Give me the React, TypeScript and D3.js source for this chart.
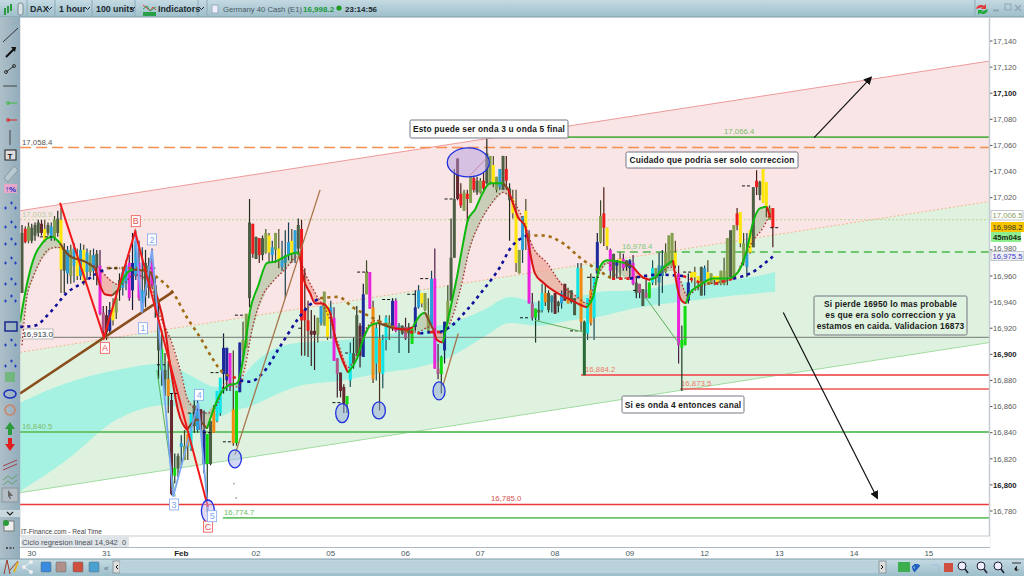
import * as d3 from "d3";

type Bar = [number, number, number, number, string];

const W = 1024;
const H = 576;
const plot = { left: 20, right: 989, top: 18, bottom: 536 };
const SANS = "'Liberation Sans', Arial, sans-serif";

// high, body top, body bottom, low, colour key
const barsJan30: Bar[] = [
  [16999, 16993, 16947, 16947, "d"], [16998, 16996, 16986, 16985, "r"], [17001, 16998, 16987, 16985, "l"], [17000, 16997, 16987, 16985, "d"],
  [17001, 16999, 16991, 16987, "d"], [17003, 17001, 16993, 16990, "d"], [17003, 17000, 16993, 16991, "m"], [17003, 16996, 16987, 16986, "y"],
  [17001, 16999, 16993, 16991, "d"], [17001, 16998, 16989, 16987, "c"], [17006, 17003, 16989, 16987, "l"], [17010, 17004, 16993, 16990, "d"],
  [17012, 17003, 16965, 16947, "y"], [16985, 16980, 16964, 16947, "d"], [16983, 16980, 16962, 16954, "c"], [16984, 16980, 16960, 16954, "l"],
  [16985, 16981, 16968, 16955, "c"], [16981, 16976, 16960, 16957, "y"], [16985, 16980, 16960, 16957, "c"], [16984, 16980, 16955, 16953, "y"],
  [16981, 16978, 16963, 16957, "c"], [16980, 16976, 16963, 16960, "l"], [16981, 16976, 16964, 16957, "c"],
];
const barsJan31: Bar[] = [
  [16980, 16977, 16966, 16953, "d"], [16980, 16968, 16931, 16930, "p"], [16937, 16932, 16918, 16913, "k"], [16937, 16930, 16917, 16911, "m"],
  [16940, 16934, 16918, 16916, "n"], [16943, 16937, 16926, 16922, "y"], [16949, 16943, 16932, 16927, "l"], [16962, 16957, 16949, 16941, "d"],
  [16967, 16963, 16951, 16945, "c"], [16972, 16968, 16954, 16949, "c"], [16976, 16970, 16943, 16941, "p"], [16993, 16970, 16949, 16934, "n"],
  [16995, 16987, 16960, 16957, "c"], [16987, 16970, 16943, 16941, "p"], [16982, 16949, 16932, 16932, "c"], [16980, 16970, 16945, 16936, "d"],
  [16974, 16968, 16951, 16943, "d"], [16981, 16970, 16953, 16951, "p"], [16959, 16953, 16937, 16928, "d"], [16941, 16926, 16903, 16881, "d"],
  [16918, 16904, 16888, 16876, "g"], [16901, 16888, 16881, 16868, "d"], [16895, 16881, 16868, 16855, "o"],
];
const barsFeb01: Bar[] = [
  [16870, 16865, 16793, 16792, "m"], [16824, 16813, 16807, 16801, "g"], [16824, 16822, 16813, 16806, "d"], [16838, 16832, 16829, 16815, "c"],
  [16842, 16830, 16819, 16819, "l"], [16839, 16839, 16830, 16819, "o"], [16855, 16855, 16828, 16826, "a"], [16865, 16861, 16845, 16840, "d"],
  [16865, 16857, 16842, 16840, "c"], [16858, 16858, 16842, 16840, "m"], [16857, 16842, 16816, 16809, "n"], [16839, 16839, 16816, 16779, "g"],
  [16849, 16849, 16816, 16815, "d"], [16861, 16859, 16840, 16840, "o"], [16872, 16872, 16849, 16848, "a"], [16882, 16882, 16855, 16853, "a"],
  [16916, 16905, 16885, 16870, "n"], [16905, 16905, 16880, 16872, "n"], [16901, 16901, 16875, 16872, "p"], [16903, 16858, 16832, 16830, "o"],
  [16872, 16872, 16832, 16830, "g"], [16909, 16909, 16871, 16871, "n"], [16925, 16911, 16903, 16897, "l"],
];
const barsFeb02: Bar[] = [
  [16931, 16931, 16905, 16905, "l"], [17019, 17001, 16943, 16936, "d"], [17000, 17000, 16977, 16974, "r"], [16990, 16990, 16973, 16973, "d"],
  [16989, 16989, 16976, 16970, "r"], [16991, 16989, 16976, 16972, "d"], [16996, 16993, 16978, 16977, "l"], [16993, 16991, 16978, 16970, "y"],
  [16987, 16982, 16976, 16970, "c"], [16993, 16993, 16980, 16970, "l"], [16996, 16981, 16973, 16966, "y"], [16987, 16972, 16967, 16964, "c"],
  [16995, 16976, 16970, 16943, "t"], [17001, 16986, 16976, 16972, "c"], [16996, 16987, 16977, 16970, "y"], [16995, 16995, 16978, 16970, "c"],
  [17004, 16999, 16981, 16976, "d"], [17003, 16996, 16926, 16899, "r"], [16966, 16934, 16926, 16899, "r"], [16941, 16926, 16918, 16898, "r"],
  [16934, 16918, 16915, 16891, "m"], [16930, 16918, 16915, 16888, "m"], [16928, 16928, 16915, 16909, "l"],
];
const barsFeb05: Bar[] = [
  [16937, 16937, 16924, 16922, "c"], [16948, 16948, 16922, 16922, "l"], [16937, 16937, 16913, 16911, "y"], [16941, 16936, 16930, 16912, "c"],
  [16936, 16928, 16895, 16895, "p"], [16897, 16897, 16885, 16867, "k"], [16886, 16886, 16872, 16867, "m"], [16877, 16875, 16862, 16855, "m"],
  [16868, 16868, 16862, 16855, "g"], [16909, 16901, 16880, 16875, "a"], [16913, 16901, 16893, 16889, "d"], [16937, 16930, 16901, 16899, "d"],
  [16924, 16922, 16899, 16890, "m"], [16954, 16946, 16898, 16898, "n"], [16972, 16963, 16946, 16946, "l"], [16963, 16963, 16935, 16935, "p"],
  [16941, 16936, 16881, 16878, "o"], [16924, 16920, 16893, 16880, "a"], [16930, 16912, 16886, 16857, "o"], [16915, 16911, 16885, 16874, "a"],
  [16930, 16928, 16911, 16903, "a"], [16930, 16924, 16920, 16911, "l"], [16943, 16941, 16921, 16918, "n"],
];
const barsFeb06: Bar[] = [
  [16943, 16941, 16918, 16917, "p"], [16924, 16922, 16918, 16901, "t"], [16922, 16922, 16916, 16915, "d"], [16928, 16921, 16912, 16911, "k"],
  [16924, 16921, 16916, 16901, "d"], [16920, 16920, 16908, 16908, "g"], [16949, 16936, 16921, 16918, "n"], [16953, 16949, 16936, 16935, "c"],
  [16947, 16947, 16939, 16936, "y"], [16947, 16947, 16934, 16933, "l"], [16943, 16930, 16918, 16917, "l"], [16964, 16958, 16922, 16922, "c"],
  [16981, 16958, 16889, 16889, "p"], [16908, 16889, 16885, 16881, "k"], [16899, 16898, 16885, 16870, "g"], [16925, 16925, 16903, 16893, "n"],
  [16953, 16941, 16925, 16924, "l"], [17004, 16974, 16941, 16941, "d"], [17042, 17019, 16974, 16974, "d"], [17050, 17050, 17019, 17018, "m"],
  [17031, 17023, 17014, 17012, "r"], [17026, 17024, 17010, 17010, "l"], [17026, 17023, 17019, 17001, "r"],
];
const barsFeb07: Bar[] = [
  [17036, 17036, 17016, 17016, "l"], [17037, 17035, 17026, 17024, "r"], [17036, 17033, 17024, 17022, "d"], [17035, 17033, 17024, 17023, "l"],
  [17039, 17033, 17027, 17024, "r"], [17065, 17054, 17031, 17030, "d"], [17052, 17052, 17031, 17030, "l"], [17052, 17045, 17031, 17028, "y"],
  [17036, 17036, 17026, 17024, "l"], [17042, 17042, 17028, 17026, "c"], [17052, 17052, 17026, 17026, "d"], [17052, 17042, 17033, 17026, "r"],
  [17031, 17027, 17018, 16987, "d"], [17026, 17019, 17008, 17004, "y"], [17026, 17008, 16970, 16963, "y"], [16980, 16980, 16962, 16962, "l"],
  [17006, 17006, 16980, 16970, "c"], [17019, 17010, 16995, 16980, "y"], [16995, 16985, 16939, 16939, "p"], [16947, 16939, 16928, 16926, "k"],
  [16935, 16935, 16928, 16909, "g"], [16941, 16934, 16932, 16926, "d"], [16954, 16947, 16934, 16932, "a"],
];
const barsFeb08: Bar[] = [
  [16954, 16947, 16940, 16937, "o"], [16949, 16947, 16934, 16932, "d"], [16945, 16945, 16940, 16932, "t"], [16947, 16947, 16931, 16931, "m"],
  [16941, 16940, 16937, 16932, "d"], [16949, 16947, 16939, 16935, "c"], [16954, 16954, 16941, 16941, "m"], [16951, 16943, 16939, 16939, "o"],
  [16949, 16949, 16940, 16939, "d"], [16943, 16943, 16930, 16930, "d"], [16970, 16966, 16943, 16943, "a"], [16970, 16966, 16925, 16918, "o"],
  [16926, 16925, 16884, 16884, "f"], [16943, 16943, 16916, 16911, "a"], [16962, 16949, 16924, 16922, "o"], [16959, 16959, 16928, 16911, "a"],
  [16993, 16986, 16962, 16959, "n"], [17018, 17006, 16986, 16985, "l"], [17028, 17008, 16997, 16983, "r"], [16997, 16997, 16983, 16980, "y"],
  [16981, 16980, 16964, 16958, "p"], [16977, 16977, 16958, 16958, "d"], [16972, 16972, 16968, 16958, "n"],
];
const barsFeb09: Bar[] = [
  [16978, 16973, 16970, 16958, "y"], [16977, 16973, 16966, 16964, "p"], [16972, 16972, 16967, 16964, "d"], [16973, 16972, 16966, 16959, "n"],
  [16976, 16970, 16954, 16953, "p"], [16960, 16955, 16947, 16943, "d"], [16954, 16954, 16947, 16943, "k"], [16950, 16950, 16937, 16937, "d"],
  [16957, 16947, 16943, 16943, "k"], [16955, 16955, 16943, 16943, "g"], [16972, 16966, 16955, 16953, "a"], [16966, 16966, 16960, 16953, "l"],
  [16978, 16968, 16955, 16937, "t"], [16980, 16968, 16960, 16947, "t"], [16985, 16978, 16963, 16962, "l"], [16991, 16991, 16968, 16968, "l"],
  [16993, 16993, 16968, 16968, "l"], [16987, 16978, 16968, 16966, "y"], [16968, 16962, 16907, 16893, "p"], [16922, 16911, 16905, 16872, "g"],
  [16937, 16937, 16907, 16907, "g"], [16962, 16955, 16941, 16939, "n"], [16963, 16963, 16959, 16955, "y"],
];
const barsFeb12: Bar[] = [
  [16967, 16963, 16959, 16951, "y"], [16960, 16960, 16955, 16949, "y"], [16967, 16967, 16945, 16945, "d"], [16968, 16966, 16955, 16945, "c"],
  [16972, 16963, 16955, 16955, "y"], [16962, 16962, 16954, 16954, "l"], [16960, 16960, 16957, 16953, "y"], [16960, 16960, 16955, 16953, "y"],
  [16964, 16964, 16954, 16953, "l"], [16974, 16964, 16954, 16953, "l"], [16989, 16989, 16959, 16953, "l"], [16995, 16995, 16959, 16959, "d"],
  [16999, 16999, 16959, 16959, "l"], [17012, 17008, 16999, 16995, "r"], [17009, 17009, 16985, 16982, "y"], [16993, 16985, 16970, 16968, "l"],
  [16993, 16977, 16967, 16959, "c"], [16995, 16995, 16978, 16977, "y"], [17028, 17028, 16982, 16982, "d"], [17041, 17033, 17028, 17022, "r"],
  [17033, 17032, 17022, 17018, "d"], [17042, 17042, 17016, 17016, "y"], [17032, 17032, 17012, 17005, "y"],
];
const barsLast: Bar[] = [
  [17014, 17012, 17003, 17003, "l"], [17012, 17012, 16997, 16982, "r"],
];
const allBars = [
  ...barsJan30, ...barsJan31, ...barsFeb01, ...barsFeb02, ...barsFeb05, ...barsFeb06,
  ...barsFeb07, ...barsFeb08, ...barsFeb09, ...barsFeb12, ...barsLast,
];

const bodyColors: Record<string, string> = {
  d: "#4c5e44", m: "#642a30", y: "#ffe60a", c: "#2ba0d8", a: "#10e4e6", p: "#ea22dc",
  o: "#f08a12", r: "#ee1c1c", n: "#1c2a9c", g: "#10dc10", l: "#84a04e", k: "#b4558c",
  t: "#2c8ca0", f: "#2a6a34",
};
const wickColors: Record<string, string> = {
  d: "#202a1e", m: "#3c1c20", y: "#4e4a24", c: "#173f56", a: "#174f5a", p: "#4a1e4a",
  o: "#4a3216", r: "#4a1e16", n: "#121a34", g: "#1a3a20", l: "#3e4a24", k: "#3c1e32",
  t: "#173f4a", f: "#1a3a20",
};

const fastBars = [-0.6, 1.8, 4, 6.2, 9.2, 11.7, 14.8, 19.4, 22.5, 24, 25.5, 27.7, 29.5, 32.6, 34.2, 39.4, 41.5, 44, 45.5, 48, 50.8, 53.8, 56.9, 60.9, 63.4, 66.2, 68, 70.2, 72.6, 75.4, 77.8, 80.3, 84.6, 85.5, 86.5, 88.6, 90.2, 92.3, 94.8, 96.3, 98.5, 100.3, 103.1, 104.9, 107.1, 109.5, 114.2, 118.5, 120.3, 122.5, 124, 126.5, 127.7, 129.5, 131.7, 133.8, 135.7, 137.2, 139.4, 141.8, 144, 148, 149.5, 151, 152.6, 154.8, 156.3, 157.8, 160.3, 164.6, 168.6, 171.7, 173.8, 175.7, 177.8, 180, 185.5, 188, 191, 193.2, 194.8, 197.2, 200.3, 201.8, 203, 204.3, 205.5, 208.6, 212.6, 216.9, 220, 223, 224.9, 227.1, 229.2, 230.2];
const fastPrices = [16925, 16957, 16976, 16985, 16990, 16985, 16975, 16971, 16966, 16953, 16946, 16945, 16949, 16963, 16965, 16963, 16945, 16919, 16893, 16857, 16842, 16850, 16843, 16869, 16876, 16878, 16896, 16934, 16952, 16970, 16971, 16974, 16978, 16975, 16959, 16947, 16939, 16939, 16932, 16913, 16896, 16886, 16897, 16911, 16922, 16924, 16920, 16919, 16921, 16930, 16932, 16919, 16911, 16909, 16934, 16959, 16985, 17003, 17011, 17024, 17031, 17031, 17027, 17016, 17005, 16998, 16978, 16962, 16955, 16947, 16942, 16938, 16936, 16944, 16967, 16972, 16970, 16967, 16959, 16957, 16959, 16966, 16972, 16949, 16941, 16939, 16947, 16953, 16958, 16958, 16962, 16980, 17001, 17012, 17013, 17005];
const fastTrend = [
  "ggggg", "bbb", "rrr", "b", "gg", "bb", "rrrr", "bb", "ggggggggggg", "rrrrrrrr", "gggg", "b", "rr", "gg", "b", "rr",
  "gggggggg", "b", "rrrrrrrrrr", "gggg", "b", "rr", "ggg", "rrr", "ggggggggg", "rr",
].join("");

const slowBars = [0, 1.5, 3.4, 5.5, 8.6, 11.1, 14.8, 19.4, 24, 27, 30.2, 34.8, 39.4, 41.5, 46.5, 49.2, 51, 54.2, 57.2, 60.3, 62.5, 66.5, 68.6, 70.8, 73.8, 76.9, 80.9, 84.9, 87.1, 90.2, 94.2, 97.2, 100.3, 103.1, 106.2, 109.2, 113.2, 118.5, 121.5, 125.5, 129.5, 131.7, 134.8, 137.8, 140.9, 144, 148, 151, 154.2, 157.2, 161.5, 166.5, 170.8, 173.8, 176.9, 180, 184, 188, 194.2, 199.4, 202.5, 204.6, 208.6, 213.8, 218.8, 221.8, 224.9, 228, 230.2];
const slowPrices = [16907, 16944, 16959, 16971, 16981, 16982, 16976, 16971, 16965, 16957, 16953, 16961, 16955, 16936, 16906, 16883, 16865, 16857, 16855, 16863, 16878, 16875, 16890, 16919, 16944, 16955, 16965, 16975, 16962, 16947, 16930, 16909, 16890, 16901, 16921, 16926, 16921, 16919, 16917, 16921, 16916, 16924, 16949, 16982, 17001, 17014, 17024, 17018, 17003, 16982, 16970, 16952, 16944, 16939, 16959, 16970, 16958, 16959, 16958, 16967, 16957, 16945, 16952, 16955, 16958, 16972, 16987, 16997, 17008];

const longBars = [-0.6, 4, 8.6, 13.8, 18.8, 23.1, 26.2, 29.2, 36.3, 41.5, 46.5, 50.8, 54.8, 58.8, 61.8, 64.9, 67.1, 70.2, 74.2, 79.4, 84.6, 88.6, 91.7, 97.2, 101.8, 106.2, 111.1, 115.4, 119.4, 122.5, 125.5, 128.6, 131.7, 136.9, 141.8, 147.1, 150.2, 155.4, 160.3, 166.5, 171.7, 176.9, 181.5, 187, 196.3, 203.4, 208.6, 213.2, 218.8, 224, 231];
const longPrices = [16921, 16922, 16932, 16947, 16955, 16962, 16966, 16966, 16966, 16959, 16947, 16928, 16913, 16896, 16886, 16883, 16880, 16879, 16886, 16906, 16926, 16938, 16943, 16944, 16936, 16930, 16924, 16920, 16917, 16916, 16917, 16917, 16921, 16934, 16949, 16967, 16981, 16991, 16991, 16985, 16974, 16965, 16958, 16958, 16961, 16960, 16955, 16954, 16958, 16962, 16975];
const longTrend = [
  "nnnnnn", "bbbbbbbbb", "r", "nnnnnn", "bbbbbb", "r", "n", "r", "nnnnnn", "bbbbb", "r", "nn", "r", "b", "r", "nnn",
].join("");

const bandBars = [-0.6, 13.8, 29.2, 44, 51.7, 60, 65.5, 70.2, 75.4, 85.5, 98.8, 111.1, 121.5, 131.7, 142, 150.2, 158.5, 168.6, 177.8, 190.1, 202.5, 218.8, 231.7];
const bandTop = [16863, 16878, 16888, 16893, 16884, 16875, 16876, 16890, 16901, 16909, 16911, 16915, 16919, 16924, 16934, 16944, 16940, 16942, 16948, 16949, 16955, 16957, 16963];
const bandBottom = [16795, 16819, 16850, 16861, 16857, 16852, 16857, 16860, 16866, 16876, 16880, 16886, 16890, 16898, 16913, 16924, 16922, 16926, 16929, 16936, 16940, 16945, 16948];

const channelBars = [-0.6, 297.5];
const channelUpper = [17010, 17124.6];
const channelMiddle = [16901.6, 17017];
const channelLower = [16794, 16909];

const priceTicks = d3.range(16780, 17141, 20);
const boldTicks = [17100, 16900, 16800];
const hiddenTicks = [17000];
const dayTicks = [3, 26, 49, 72, 95, 118, 141, 164, 187, 210, 233, 256, 279];
const dayLabels = ["30", "31", "Feb", "02", "05", "06", "07", "08", "09", "12", "13", "14", "15"];

const x = d3.scaleLinear().domain([0, 297.5]).range([22, 989]);
const y = d3.scaleLinear().domain([16780, 17140]).range([511, 41]);

const levels = [
  { price: 17066.4, from: 143, color: "#58b048", w: 1.6, dash: "", label: "17,066.4", lx: 724, lc: "#7dbb6d" },
  { price: 17058.4, from: -0.6, color: "#f59050", w: 1.6, dash: "11 5", label: "17,058.4", lx: 22, lc: "#555" },
  { price: 17003.2, from: -0.6, color: "#c0d8a0", w: 1.1, dash: "2 2", label: "17,003.9", lx: 22, lc: "#b6cfa0" },
  { price: 16978.4, from: 183, color: "#48b848", w: 1.3, dash: "8 5", label: "16,978.4", lx: 622, lc: "#7dcb7d" },
  { price: 16884.2, from: 172, color: "#f06868", w: 1.9, dash: "", label: "16,884.2", lx: 585, lc: "#ea7a6a" },
  { price: 16873.5, from: 202.5, color: "#ee5858", w: 1.4, dash: "", label: "16,873.5", lx: 681, lc: "#ea7a6a" },
  { price: 16840.5, from: -0.6, color: "#6cc46c", w: 1.8, dash: "", label: "16,840.5", lx: 22, lc: "#7dbb6d" },
  { price: 16785.0, from: -0.6, color: "#ee3838", w: 1.6, dash: "", label: "16,785.0", lx: 491, lc: "#d85050" },
  { price: 16774.7, from: 61.8, color: "#68c468", w: 1.8, dash: "", label: "16,774.7", lx: 224, lc: "#6dbb5d" },
];

const zigzagBars = [11.7, 25.2, 34.8, 57.2];
const zigzagPrices = [17016, 16913, 16994, 16783];
const waveBars = [34.8, 36.9, 40, 46.5, 54.2, 57.2];
const wavePrices = [16994, 16932, 16980, 16791, 16863, 16781];

const segments = [
  { b: [-0.6, 46.5], p: [16870, 16948], color: "#8a4d1c", w: 2.6 },
  { b: [65.5, 91.7], p: [16823, 17026], color: "#a8744c", w: 1.3 },
  { b: [129.5, 134.2], p: [16876, 16916], color: "#a8744c", w: 1.3 },
  { b: [137.8, 142.8], p: [17037, 17050], color: "#d06060", w: 0.8 },
  { b: [41.5, 47.1], p: [16888, 16791], color: "#58b058", w: 1 },
  { b: [157.8, 172.9], p: [16926, 16917], color: "#58b058", w: 1 },
  { b: [191.7, 202.5], p: [16944, 16907], color: "#58b058", w: 1 },
];
const arrows = [
  { b: [243.7, 261.2], p: [17066, 17112] },
  { b: [234.2, 263.1], p: [16932, 16790] },
];
const ellipses = [
  { b: 137.3, p: 17047, rx: 21, ry: 14.5, fill: "#b49ee0" },
  { b: 98.5, p: 16855, rx: 6.5, ry: 9.5, fill: "#90a8d8" },
  { b: 109.8, p: 16857, rx: 6.5, ry: 8.5, fill: "#90a8d8" },
  { b: 128.3, p: 16872, rx: 6, ry: 9, fill: "#90a8d8" },
  { b: 65.5, p: 16820, rx: 6.5, ry: 9, fill: "#a8b4ec" },
  { b: 57.2, p: 16780, rx: 6.5, ry: 11, fill: "#c8b4e8" },
];
const waveTags = [
  { t: "A", b: 25.5, p: 16905, c: "#f05050" }, { t: "B", b: 35, p: 17002, c: "#f05050" },
  { t: "C", b: 57.2, p: 16768, c: "#f05050" }, { t: "1", b: 37.2, p: 16920, c: "#80a8f0" },
  { t: "2", b: 40, p: 16988, c: "#80a8f0" }, { t: "3", b: 46.8, p: 16785, c: "#80a8f0" },
  { t: "4", b: 54.5, p: 16869, c: "#80a8f0" }, { t: "5", b: 58.5, p: 16776, c: "#80a8f0" },
];
// small black pivot dashes, bar range and price
const pivotFrom = [5.5, 26.8, 38.8, 41.5, 45.5, 51, 55.7, 58, 61.8, 65.5, 85, 95.5, 99.4, 103.1, 110.8, 118.5, 122.5, 130, 153.2, 168.6, 173.8, 188, 203.4, 221.5, 230.2];
const pivotTo = [9.2, 30.2, 41, 44, 48, 53.8, 58.8, 61, 64.8, 68.6, 86.5, 98.5, 100.8, 106.5, 114.2, 121.5, 125, 132.7, 156.3, 171.2, 177.5, 189.5, 206.5, 224, 233.2];
const pivotPrices = [16990, 16966, 16966, 16892, 16870, 16855, 16840, 16886, 16833, 16930, 16920, 16863, 16901, 16963, 16942, 16946, 16958, 17019, 16928, 16918, 16959, 16949, 16963, 17029, 16997];

const strayBars = [65.2, 65.9];
const strayPrices = [16801, 16790];

const textBoxes = [
  { x: 410, y: 120, w: 158, h: 18, lines: ["Esto puede ser onda 3 u onda 5 final"] },
  { x: 626, y: 152, w: 172, h: 16, lines: ["Cuidado que podria ser solo correccion"] },
  { x: 622, y: 396, w: 122, h: 17, lines: ["Si es onda 4 entonces canal"] },
  { x: 814, y: 296, w: 153, h: 39, lines: ["Si pierde 16950 lo mas probable", "es que era solo correccion y ya", "estamos en caida. Validacion 16873"] },
];

const lineAt = d3.line<[number, number]>().x((d) => x(d[0])).y((d) => y(d[1]));
const curveAt = d3.line<[number, number]>().x((d) => x(d[0])).y((d) => y(d[1])).curve(d3.curveMonotoneX);
const slowAt = d3.scaleLinear().domain(slowBars).range(slowPrices).clamp(true);

// cut a series into runs of the same colour key, each run ends on the next run's first point
const runsOf = (bars: number[], prices: number[], keys: string) => {
  const runs: { key: string; idx: number[] }[] = [];
  bars.forEach((_, i) => {
    const key = keys[i] ?? keys[keys.length - 1];
    const last = runs[runs.length - 1];
    if (last && last.key === key) last.idx.push(i);
    else {
      if (last) last.idx.push(i);
      runs.push({ key, idx: [i] });
    }
  });
  return runs.map((r) => ({
    key: r.key,
    points: r.idx.map((i) => [bars[i], prices[i]] as [number, number]),
  }));
};

const fastRuns = runsOf(fastBars, fastPrices, fastTrend);
const longRuns = runsOf(longBars, longPrices, longTrend);
const fastStroke: Record<string, string> = { g: "#0cb80c", r: "#d81414", b: "#7a4a20" };
const fillTone: Record<string, string> = { g: "#b4c4a4", r: "#f0a498", b: "#c8b8a0" };
const longStroke: Record<string, string> = { n: "#10109a", b: "#a06c14", r: "#e02020" };

const bandArea = d3
  .area<number>()
  .x((d) => x(d))
  .y0((_, i) => y(bandBottom[i]))
  .y1((_, i) => y(bandTop[i]))
  .curve(d3.curveMonotoneX);

const channelPoly = (a: number[], b: number[]) =>
  `M${x(channelBars[0])},${y(a[0])}L${x(channelBars[1])},${y(a[1])}L${x(channelBars[1])},${y(b[1])}L${x(channelBars[0])},${y(b[0])}Z`;

const Txt = (p: any) => <text fontFamily={SANS} {...p} />;

const TopBar = () => {
  const seps = [27, 55, 92, 135, 198, 207, 975];
  return (
    <g>
      <defs>
        <linearGradient id="bar" x1="0" x2="0" y1="0" y2="1">
          <stop offset="0" stopColor="#c4dae2" />
          <stop offset="1" stopColor="#9dbecb" />
        </linearGradient>
        <linearGradient id="side" x1="0" x2="1" y1="0" y2="0">
          <stop offset="0" stopColor="#aebfc8" />
          <stop offset="1" stopColor="#92adbc" />
        </linearGradient>
      </defs>
      <rect width={W} height={17} fill="url(#bar)" />
      <line x1={0} x2={W} y1={17} y2={17} stroke="#7f9aa8" />
      {seps.map((s) => (
        <line key={s} x1={s} x2={s} y1={0} y2={17} stroke="#8eaab8" />
      ))}
      {[5, 8, 11].map((bx, i) => (
        <rect key={bx} x={bx - 1} y={[8, 6, 4][i]} width={2} height={7} fill={"#2e9a40"} />
      ))}
      <rect x={18} y={3} width={5} height={12} rx={2} fill="#d8e4e8" stroke="#7a8a90" />
      <Txt x={30} y={12} fontSize={8.8} fontWeight="bold" fill="#1c2a30">DAX</Txt>
      <Txt x={59} y={12} fontSize={8.8} fontWeight="bold" fill="#1c2a30">1 hour</Txt>
      <Txt x={96} y={12} fontSize={8.8} fontWeight="bold" fill="#1c2a30">100 units</Txt>
      <Txt x={158} y={12} fontSize={8.8} fontWeight="bold" fill="#1c2a30">Indicators</Txt>
      {[47, 85, 130, 199].map((cx) => (
        <path key={cx} d={`M${cx},7l2.5,2.5l2.5,-2.5`} fill="none" stroke="#223" strokeWidth={1} />
      ))}
      <path d="M143,5 l4,3 l3,3 l3,-4 l3,3" fill="none" stroke="#e04040" strokeWidth={1} />
      <path d="M143,9 l4,-3 l3,5 l3,-2 l3,-2" fill="none" stroke="#30a050" strokeWidth={1} />
      <rect x={143} y={12} width={13} height={4} fill="#28a048" />
      <rect x={212} y={5} width={6} height={8} fill="#eef" stroke="#9ab" />
      <Txt x={223} y={11.5} fontSize={7.7} fill="#4a5a64">Germany 40 Cash (E1)</Txt>
      <Txt x={303} y={11.5} fontSize={8} fontWeight="bold" fill="#1b9a3a">16,998.2</Txt>
      <circle cx={339} cy={8} r={2.6} fill="#1f9a1f" />
      <Txt x={345} y={11.5} fontSize={8} fontWeight="bold" fill="#1c2a30">23:14:56</Txt>
      <path d="M976,9 a5,5 0 0 1 8,-3 l2,-2 v5 h-5 l2,-2" fill="#e03a3a" />
      <path d="M988,9 a5,5 0 0 1 -8,4 l-2,2 v-5 h5 l-2,2" fill="#22a83a" />
      <rect x={993} y={9.5} width={6} height={2} fill="#8fa6b2" />
      <rect x={1005} y={4} width={6} height={6} fill="none" stroke="#8fa6b2" />
      <path d="M1015,5 l6,6 m0,-6 l-6,6" stroke="#8fa6b2" strokeWidth={1.5} />
    </g>
  );
};

const SideBar = () => {
  const crossRows = [203, 222, 239, 258, 279, 296, 340, 361];
  return (
    <g>
      <rect x={0} y={17} width={20} height={542} fill="url(#side)" />
      <line x1={20} x2={20} y1={17} y2={559} stroke="#aab" strokeOpacity={0.5} />
      <path d="M3,42 L18,28" stroke="#333" />
      <path d="M6,57 L15,48" stroke="#111" strokeWidth={2} />
      <path d="M11,47 l5,0 l-1,5z" fill="#111" />
      <path d="M6,72 L14,66" stroke="#333" />
      <circle cx={6} cy={72} r={1.5} fill="none" stroke="#333" />
      <circle cx={14} cy={66} r={1.5} fill="none" stroke="#333" />
      <line x1={3} x2={17} y1={86} y2={86} stroke="#444" />
      <line x1={8} x2={17} y1={103} y2={103} stroke="#3cb83c" />
      <circle cx={8} cy={103} r={1.4} fill="none" stroke="#3cb83c" />
      <line x1={8} x2={17} y1={120} y2={120} stroke="#e02020" />
      <circle cx={8} cy={120} r={1.4} fill="none" stroke="#e02020" />
      <line x1={10} x2={10} y1={130} y2={145} stroke="#444" />
      <rect x={5} y={150} width={11} height={10} fill="#ddd" stroke="#222" />
      <Txt x={7.5} y={158.5} fontSize={8} fontWeight="bold" fill="#111">T</Txt>
      <path d="M4,178 L14,166 L18,170 L8,182Z" fill="#b8c8d0" stroke="#8a9aa0" />
      <rect x={4} y={184} width={13} height={9} fill="#e8a8c8" />
      <Txt x={5} y={192} fontSize={8} fontWeight="bold" fill="#2030d0">↑%</Txt>
      {crossRows.map((r) => (
        <g key={r} stroke="#2040c0" strokeWidth={1}>
          <path d={`M4,${r + 5} h3 M5.5,${r + 3.5} v3 M10,${r} h3 M11.5,${r - 1.5} v3 M14,${r + 5} h3 M15.5,${r + 3.5} v3`} />
        </g>
      ))}
      <rect x={5} y={322} width={12} height={9} fill="none" stroke="#1a2a90" strokeWidth={1.5} />
      <rect x={5} y={372} width={10} height={10} fill="#60b860" opacity={0.7} />
      <ellipse cx={10} cy={394} rx={6} ry={4} fill="none" stroke="#1a30c0" strokeWidth={1.5} />
      <circle cx={10} cy={410} r={5} fill="none" stroke="#d08060" strokeWidth={1.5} />
      <path d="M10,422 l5,7 h-3 v6 h-4 v-6 h-3z" fill="#2a9a3a" />
      <path d="M10,451 l5,-7 h-3 v-6 h-4 v6 h-3z" fill="#e02020" />
      <path d="M3,466 L17,460 M3,470 L17,464" stroke="#a04050" />
      <path d="M3,480 l5,-4 l4,3 l5,-4 M3,485 l5,-4 l4,3 l5,-4" stroke="#60a070" fill="none" />
      <rect x={2} y={488} width={16} height={14} fill="#b4bec4" stroke="#8a969c" />
      <path d="M8,490 l5,6 h-3 l1,3 h-1 l-2,-3 z" fill="#666" />
      <rect x={0} y={510} width={20} height={7} fill="#c8d8de" />
      <path d="M7,512l3,3l3,-3" fill="none" stroke="#222" strokeWidth={1.2} />
      <rect x={4} y={521} width={10} height={10} fill="#eee" stroke="#777" />
      <circle cx={6} cy={523} r={3} fill="#2a9a3a" />
      <path d="M6,548h8" stroke="#333" strokeDasharray="2 1.5" strokeWidth={1.5} />
    </g>
  );
};

const BottomBar = () => {
  const icons = [46, 61, 78, 94];
  return (
    <g>
      <rect x={20} y={536} width={970} height={11} fill="#fff" />
      <line x1={20} x2={990} y1={536} y2={536} stroke="#c4ccd2" />
      <rect x={21} y={537} width={108} height={10} fill="#dfe4e8" />
      <Txt x={22} y={545} fontSize={7.6} fill="#4a5058">Ciclo regresion lineal 14,942</Txt>
      <Txt x={122} y={545} fontSize={7.6} fill="#4a5058">0</Txt>
      <rect x={20} y={547.5} width={970} height={11.5} fill="#fff" />
      <line x1={20} x2={990} y1={547.5} y2={547.5} stroke="#aeb8c0" />
      {dayTicks.map((t, i) => (
        <Txt key={t} x={x(t)} y={556} fontSize={8} textAnchor="middle" fontWeight={dayLabels[i] === "Feb" ? "bold" : "normal"} fill={dayLabels[i] === "Feb" ? "#222" : "#4a5a60"}>
          {dayLabels[i]}
        </Txt>
      ))}
      <Txt x={21} y={534} fontSize={6.6} fill="#444">IT-Finance.com - Real Time</Txt>
      <rect y={559} width={W} height={17} fill="url(#bar)" />
      <line x1={0} x2={W} y1={559} y2={559} stroke="#7f9aa8" />
      <path d="M4,574 L7,560 L10,574 M10,570 L18,561" stroke="#a03a2a" fill="none" />
      <path d="M14,572 L18,562" stroke="#e0b020" strokeWidth={2} />
      <circle cx={24} cy={567} r={2} fill="#eee" />
      <circle cx={31} cy={562} r={2} fill="#eee" />
      <circle cx={31} cy={572} r={2} fill="#eee" />
      <path d="M24,567 L31,562 M24,567 L31,572" stroke="#eee" />
      {icons.map((cx, i) => (
        <rect key={cx} x={cx - 5} y={562} width={10} height={10} rx={1} fill={["#3a8ae0", "#b09088", "#d05040", "#4aa0d0"][i]} stroke="#5a6a70" strokeWidth={0.5} />
      ))}
      <Txt x={104} y={571} fontSize={8} fill="#567">«</Txt>
      <rect x={113} y={561} width={7} height={12} fill="#ddd" stroke="#8a9aa0" />
      <path d="M118,565 l-2,2 l2,2" stroke="#111" fill="none" />
      <rect x={120} y={561} width={765} height={12} fill="#b9d2dc" />
      <rect x={879} y={561} width={7} height={12} fill="#ddd" stroke="#8a9aa0" />
      <path d="M881,565 l2,2 l-2,2" stroke="#111" fill="none" />
      <rect x={898} y={562} width={12} height={10} fill="#3cb050" />
      <path d="M915,572 a4,4 0 1 1 5,-6 M915,566 v-2 l-3,3 l3,3z" stroke="#2060c0" fill="#2060c0" />
      <path d="M937,572 a4,4 0 1 0 -5,-6" stroke="#a0bce0" fill="none" />
      <rect x={944} y={563} width={9} height={9} fill="#d05040" />
      {[962, 981, 998].map((cx) => (
        <g key={cx}>
          <circle cx={cx} cy={566} r={4} fill="#eef" stroke="#223" />
          <path d={`M${cx + 3},${569} l3,4`} stroke="#223" strokeWidth={1.5} />
        </g>
      ))}
      <path d="M1012,563 h9 M1016.5,566 v5 l-2,-2 m2,2 l2,-2" stroke="#333" />
    </g>
  );
};

const PriceAxis = () => (
  <g>
    <rect x={990} y={18} width={34} height={541} fill="#fff" />
    <line x1={989.5} x2={989.5} y1={18} y2={548} stroke="#c6ccd4" strokeWidth={1.5} />
    {priceTicks.filter((t) => !hiddenTicks.includes(t)).map((t) => (
      <g key={t}>
        <line x1={990} x2={992.5} y1={y(t)} y2={y(t)} stroke="#555" />
        <Txt x={993} y={t === 16980 ? y(t) + 1.5 : y(t) + 2.8} fontSize={7.7} fontWeight={boldTicks.includes(t) ? "bold" : "normal"} fill={boldTicks.includes(t) ? "#222" : "#5a5a5a"}>
          {d3.format(",")(t)}
        </Txt>
      </g>
    ))}
    <rect x={991} y={210.5} width={32} height={9.5} fill="#fff" stroke="#c0c8cc" />
    <Txt x={992.5} y={218} fontSize={7.7} fill="#8a9a60">17,006.5</Txt>
    <rect x={991} y={222} width={33} height={10} fill="#f6c400" />
    <Txt x={992.5} y={230} fontSize={7.7} fill="#333">16,998.2</Txt>
    <rect x={991} y={232} width={30} height={10} fill="#8cee8c" />
    <Txt x={993} y={240} fontSize={7.7} fontWeight="bold" fill="#1a2a1a">45m04s</Txt>
    <rect x={991} y={251.5} width={33} height={9} fill="#eef0f4" stroke="#c0c8cc" />
    <Txt x={992.5} y={259} fontSize={7.7} fill="#3a3ac8">16,975.5</Txt>
  </g>
);

const App = () => {
  return (
    <svg width={W} height={H} viewBox={`0 0 ${W} ${H}`} style={{ position: "fixed", left: 0, top: 0, background: "#fff" }}>
      <defs>
        <clipPath id="plotClip">
          <rect x={plot.left} y={plot.top} width={plot.right - plot.left} height={plot.bottom - plot.top} />
        </clipPath>
        <marker id="head" viewBox="0 0 10 10" refX="8" refY="5" markerWidth="7" markerHeight="7" orient="auto">
          <path d="M0,0 L10,5 L0,10 Z" fill="#111" />
        </marker>
      </defs>

      <g clipPath="url(#plotClip)">
        <path d={channelPoly(channelUpper, channelMiddle)} fill="#f9e5e5" />
        <path d={channelPoly(channelMiddle, channelLower)} fill="#dff2df" />
        <path d={bandArea(bandBars) ?? undefined} fill="#a6f2e2" />
        <line x1={x(channelBars[0])} x2={x(channelBars[1])} y1={y(channelUpper[0])} y2={y(channelUpper[1])} stroke="#ee9a9a" />
        <line x1={x(channelBars[0])} x2={x(channelBars[1])} y1={y(channelMiddle[0])} y2={y(channelMiddle[1])} stroke="#f6b48c" strokeDasharray="2 2" />
        <line x1={x(channelBars[0])} x2={x(channelBars[1])} y1={y(channelLower[0])} y2={y(channelLower[1])} stroke="#a0dca0" />

        {levels.map((l) => (
          <g key={l.price}>
            <line x1={x(l.from)} x2={plot.right} y1={y(l.price)} y2={y(l.price)} stroke={l.color} strokeWidth={l.w} strokeDasharray={l.dash || undefined} />
            <Txt x={l.lx} y={y(l.price) - 3} fontSize={7.8} fill={l.lc}>{l.label}</Txt>
          </g>
        ))}

        {fastRuns.map((r, i) => {
          const area = d3
            .area<[number, number]>()
            .x((d) => x(d[0]))
            .y0((d) => y(slowAt(d[0])))
            .y1((d) => y(d[1]));
          return <path key={i} d={area(r.points) ?? undefined} fill={fillTone[r.key]} opacity={0.7} />;
        })}

        {allBars.map((b, i) => {
          const bw = 3;
          return (
            <g key={i}>
              <line x1={x(i)} x2={x(i)} y1={y(b[0])} y2={y(b[3])} stroke={wickColors[b[4]]} strokeWidth={1.2} />
              <rect x={x(i) - bw / 2} y={y(b[1])} width={bw} height={Math.max(1, y(b[2]) - y(b[1]))} fill={bodyColors[b[4]]} />
            </g>
          );
        })}

        <line x1={plot.left} x2={plot.right} y1={y(16913)} y2={y(16913)} stroke="#6a706a" strokeOpacity={0.75} strokeWidth={1.2} />
        <rect x={21} y={329} width={32} height={10} fill="#fff" stroke="#bbb" />
        <Txt x={22.5} y={337} fontSize={7.8} fill="#333">16,913.0</Txt>

        <path d={curveAt(slowBars.map((b, i) => [b, slowPrices[i]] as [number, number])) ?? undefined} fill="none" stroke="#a83030" strokeWidth={1.3} strokeDasharray="1.6 2" />
        {longRuns.map((r, i) => (
          <path key={i} d={curveAt(r.points) ?? undefined} fill="none" stroke={longStroke[r.key]} strokeWidth={2.6} strokeDasharray="3.2 4" />
        ))}
        {fastRuns.map((r, i) => (
          <path key={i} d={curveAt(r.points) ?? undefined} fill="none" stroke={fastStroke[r.key]} strokeWidth={2} />
        ))}

        {pivotPrices.map((p, i) => (
          <line key={i} x1={x(pivotFrom[i])} x2={x(pivotTo[i])} y1={y(p)} y2={y(p)} stroke="#111" strokeDasharray="3 2" />
        ))}
        {strayBars.map((b, i) => (
          <circle key={i} cx={x(b)} cy={y(strayPrices[i])} r={0.9} fill="#9aa09a" />
        ))}

        {segments.map((s, i) => (
          <path key={i} d={lineAt([[s.b[0], s.p[0]], [s.b[1], s.p[1]]]) ?? undefined} stroke={s.color} strokeWidth={s.w} fill="none" />
        ))}
        <path d={lineAt(waveBars.map((b, i) => [b, wavePrices[i]] as [number, number])) ?? undefined} fill="none" stroke="#78a4f4" strokeWidth={1.8} />
        <path d={lineAt(zigzagBars.map((b, i) => [b, zigzagPrices[i]] as [number, number])) ?? undefined} fill="none" stroke="#f01818" strokeWidth={2} />

        {ellipses.map((e, i) => (
          <g key={i}>
            <ellipse cx={x(e.b)} cy={y(e.p)} rx={e.rx} ry={e.ry} fill={e.fill} fillOpacity={0.5} stroke="#2030e0" strokeWidth={1.3} />
          </g>
        ))}

        {arrows.map((a, i) => (
          <line key={i} x1={x(a.b[0])} y1={y(a.p[0])} x2={x(a.b[1])} y2={y(a.p[1])} stroke="#111" strokeWidth={1.2} markerEnd="url(#head)" />
        ))}

        {waveTags.map((t) => (
          <g key={t.t}>
            <rect x={x(t.b) - 4.5} y={y(t.p) - 5.5} width={9} height={11} fill="#fff" stroke={t.c} strokeWidth={0.8} />
            <Txt x={x(t.b)} y={y(t.p) + 3.2} fontSize={9} textAnchor="middle" fill={t.c}>{t.t}</Txt>
          </g>
        ))}

        {textBoxes.map((b) => (
          <g key={b.x}>
            <rect x={b.x} y={b.y} width={b.w} height={b.h} rx={1.5} fill={b.lines.length > 1 ? "#dff2df" : "#fff"} stroke="#667" strokeWidth={0.9} />
            {b.lines.map((t, i) => (
              <Txt key={i} x={b.x + b.w / 2} y={b.lines.length > 1 ? b.y + 11 + i * 11.2 : b.y + b.h / 2 + 3} fontSize={8.4} fontWeight="bold" letterSpacing={0.18} textAnchor="middle" fill="#1a1a1a">
                {t}
              </Txt>
            ))}
          </g>
        ))}
      </g>

      <PriceAxis />
      <TopBar />
      <SideBar />
      <BottomBar />
    </svg>
  );
};

export default App;
